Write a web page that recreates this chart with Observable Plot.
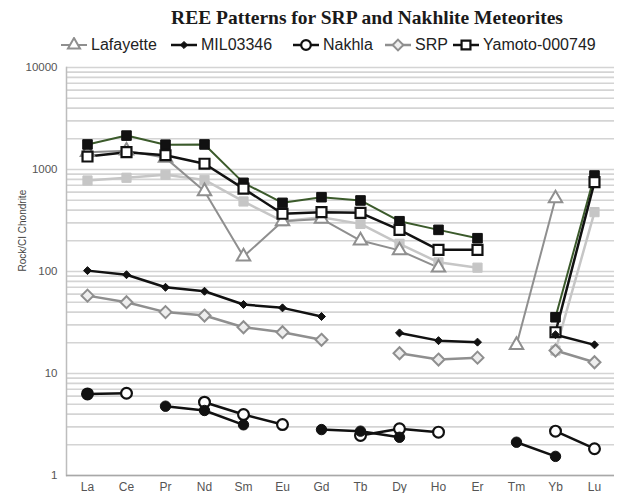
<!DOCTYPE html>
<html>
<head>
<meta charset="utf-8">
<script src="https://cdn.jsdelivr.net/npm/d3@7"></script>
<script src="https://cdn.jsdelivr.net/npm/@observablehq/plot@0.6"></script>
<style>
  body { margin: 0; background: #fff; }
  #wrap { width: 617px; position: relative; }
  #head { position: relative; height: 58px; }
  #title { position: absolute; left: 367px; top: 7px; transform: translateX(-50%); white-space: nowrap;
           font-family: "Liberation Serif", "Times New Roman", serif; font-weight: bold; font-size: 19.5px; color: #1a1a1a; }
  .leg { position: absolute; top: 36px; display: flex; align-items: center; white-space: nowrap;
         font-family: "Liberation Sans", Arial, sans-serif; font-size: 16px; color: #222; }
  .leg svg { margin-right: 3px; }
</style>
</head>
<body>
<div id="wrap">
  <div id="head"><div id="title">REE Patterns for SRP and Nakhlite Meteorites</div></div>
  <div id="chart"></div>
</div>
<script>
// ---- data ----
const elements = ["La","Ce","Pr","Nd","Sm","Eu","Gd","Tb","Dy","Ho","Er","Tm","Yb","Lu"];
const lafayette    = [1480, 1530, 1300, 612, 140, 311, 328, 201, 161, 109, null, 19, 520, null];
const mil03346     = [102, 93, 70, 64, 47.5, 44, 36.2, null, 25, 21, 20.3, null, 24, 19.1];
const nakhla       = [6.3, 6.4, null, 5.23, 3.96, 3.16, null, 2.47, 2.87, 2.66, null, null, 2.72, 1.83];
const srp          = [58, 50, 40, 37, 28.4, 25.4, 21.4, null, 15.8, 13.7, 14.3, null, 16.8, 12.9];
const yamoto       = [1340, 1480, 1380, 1140, 650, 368, 382, 376, 256, 163, 163, null, 25.4, 751];
const extraGreen   = [1760, 2150, 1750, 1760, 740, 471, 535, 497, 311, 256, 212, null, 35.6, 873];
const extraLight   = [780, 830, 887, 790, 486, 311, 341, 293, 187, 123, 109, null, 16.8, 382];
const extraFilled  = [6.3, null, 4.78, 4.34, 3.14, null, 2.82, 2.72, 2.37, null, null, 2.12, 1.54, null];
const yTickLabels  = [1, 10, 100, 1000, 10000];
const legendNames  = ["Lafayette", "MIL03346", "Nakhla", "SRP", "Yamoto-000749"];

const rows = arr => elements.map((el, i) => ({el, v: arr[i]}));

// series styles (drawing order: first is at the back)
const series = [
  {data: extraLight, stroke: "#c6c6c6", sw: 2.5, symbol: "square", fill: "#c6c6c6", mstroke: "#c6c6c6", r: 5.2},
  {data: lafayette,  stroke: "#8f8f8f", sw: 2,   symbol: "triangle", fill: "white", mstroke: "#8f8f8f", r: 5, msw: 2},
  {data: extraGreen, stroke: "#3b5a2b", sw: 2,   symbol: "square", fill: "#111", mstroke: "#111", r: 5.4},
  {data: yamoto,     stroke: "#111",    sw: 2.5, symbol: "square", fill: "white", mstroke: "#111", r: 5.6, msw: 2.2},
  {data: srp,        stroke: "#8f8f8f", sw: 2.5, symbol: "diamond2", fill: "#eeeeee", mstroke: "#8f8f8f", r: 5.4, msw: 2},
  {data: mil03346,   stroke: "#111",    sw: 2.5, symbol: "diamond2", fill: "#111", mstroke: "#111", r: 3.6, msw: 1},
  {data: nakhla,     stroke: "#111",    sw: 2.5, symbol: "circle", fill: "white", mstroke: "#111", r: 5.4, msw: 2.2},
  {data: extraFilled,stroke: "#111",    sw: 2.5, symbol: "circle", fill: "#111", mstroke: "#111", r: 5.2, msw: 1}
];

const gridTicks = d3.scaleLog().domain([1, 10000]).ticks();

const marks = [
  Plot.gridY(gridTicks, {stroke: "#d4d4d4", strokeOpacity: 1, strokeWidth: 1.6}),
  Plot.frame({anchor: "left", stroke: "#bdbdbd", strokeWidth: 1.5}),
  Plot.ruleY([1], {stroke: "#a8a8a8", strokeWidth: 1.5}),
  Plot.axisY(yTickLabels, {tickSize: 0, tickPadding: 9, fontSize: 11.5, fill: "#555", tickFormat: d => String(d), label: null}),
  Plot.axisX({tickSize: 0, tickPadding: 7, fontSize: 12, fill: "#555", label: null}),
  Plot.text(["Rock/CI Chondrite"], {frameAnchor: "left", rotate: -90, dx: -44, fontSize: 10, fill: "#444"})
];
for (const s of series) {
  marks.push(Plot.line(rows(s.data), {x: "el", y: "v", stroke: s.stroke, strokeWidth: s.sw}));
}
for (const s of series) {
  marks.push(Plot.dot(rows(s.data), {x: "el", y: "v", symbol: () => s.symbol, fill: s.fill, stroke: s.mstroke, strokeWidth: s.msw || 1, r: s.r}));
}

const chart = Plot.plot({
  width: 617,
  height: 435,
  marginLeft: 66,
  marginRight: 3,
  marginTop: 9,
  marginBottom: 18,
  style: {fontFamily: "'Liberation Sans', Arial, sans-serif", background: "white"},
  x: {type: "point", domain: elements, padding: 0.5, axis: null},
  y: {type: "log", domain: [1, 10000], axis: null},
  marks
});
document.getElementById("chart").appendChild(chart);

// ---- legend (HTML) ----
const legendStyles = [series[1], series[5], series[6], series[4], series[3]];
const legendX = [60, 170, 292, 384, 452];
const head = document.getElementById("head");
legendNames.forEach((name, i) => {
  const s = legendStyles[i];
  const item = document.createElement("div");
  item.className = "leg";
  item.style.left = legendX[i] + "px";
  const sw = d3.create("svg").attr("width", 28).attr("height", 16);
  sw.append("line").attr("x1", 1).attr("x2", 27).attr("y1", 8).attr("y2", 8)
    .attr("stroke", s.stroke).attr("stroke-width", s.sw);
  const sym = {square: d3.symbolSquare, triangle: d3.symbolTriangle, diamond2: d3.symbolDiamond2, circle: d3.symbolCircle}[s.symbol];
  sw.append("path").attr("transform", "translate(14,8)")
    .attr("d", d3.symbol(sym, Math.PI * s.r * s.r * 0.8)())
    .attr("fill", s.fill).attr("stroke", s.mstroke).attr("stroke-width", s.msw || 1);
  item.appendChild(sw.node());
  const t = document.createElement("span");
  t.textContent = name;
  item.appendChild(t);
  head.appendChild(item);
});
</script>
</body>
</html>
